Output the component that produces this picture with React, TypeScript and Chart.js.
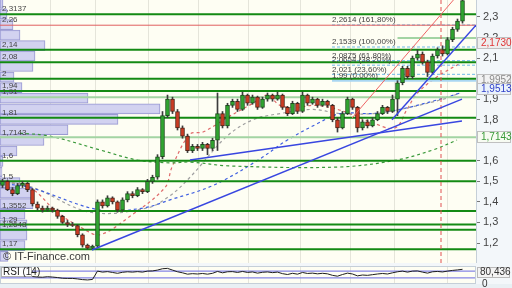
import React, { useEffect, useRef } from 'react';
import { Chart, registerables } from 'chart.js';

Chart.register(...registerables);

// ---------- price data (one candle per session) ----------
const openP = [1.48,1.50,1.46,1.44,1.48,1.49,1.46,1.39,1.37,1.36,1.37,1.36,1.33,1.30,1.29,1.285,1.24,1.19,1.175,1.185,
  1.40,1.38,1.42,1.40,1.36,1.41,1.44,1.43,1.46,1.45,1.50,1.52,1.62,1.82,1.90,1.84,1.76,1.72,1.65,1.67,
  1.66,1.68,1.66,1.70,1.83,1.77,1.87,1.89,1.85,1.92,1.88,1.91,1.86,1.90,1.92,1.90,1.92,1.86,1.83,1.88,
  1.84,1.92,1.88,1.90,1.87,1.89,1.87,1.80,1.76,1.83,1.90,1.86,1.76,1.79,1.77,1.80,1.83,1.86,1.84,1.90,
  1.98,2.05,2.01,2.10,2.12,2.08,2.03,2.11,2.14,2.12,2.19,2.24,2.28];
const highP = [1.51,1.505,1.47,1.49,1.50,1.495,1.465,1.40,1.38,1.38,1.375,1.365,1.335,1.31,1.30,1.29,1.245,1.195,1.19,1.41,
  1.41,1.43,1.425,1.405,1.42,1.45,1.45,1.47,1.465,1.51,1.53,1.63,1.84,1.92,1.91,1.85,1.77,1.73,1.68,1.68,
  1.69,1.685,1.71,1.93,1.84,1.88,1.90,1.90,1.935,1.925,1.92,1.915,1.91,1.93,1.925,1.935,1.925,1.865,1.89,1.885,
  1.935,1.925,1.91,1.905,1.90,1.895,1.875,1.81,1.84,1.91,1.905,1.865,1.80,1.80,1.81,1.84,1.87,1.865,1.92,1.99,
  2.06,2.06,2.11,2.14,2.13,2.09,2.12,2.15,2.16,2.20,2.25,2.29,2.40];
const lowP = [1.47,1.455,1.43,1.435,1.47,1.45,1.38,1.36,1.35,1.355,1.35,1.32,1.295,1.28,1.28,1.23,1.18,1.17,1.17,1.18,
  1.37,1.375,1.39,1.35,1.355,1.40,1.42,1.425,1.44,1.445,1.49,1.51,1.61,1.81,1.83,1.75,1.71,1.64,1.64,1.65,
  1.65,1.63,1.65,1.65,1.76,1.76,1.86,1.84,1.845,1.87,1.875,1.85,1.855,1.89,1.89,1.895,1.85,1.82,1.825,1.83,
  1.835,1.87,1.875,1.86,1.865,1.86,1.79,1.74,1.755,1.825,1.85,1.74,1.75,1.76,1.765,1.795,1.825,1.83,1.835,1.82,
  1.97,2.00,2.00,2.09,2.07,2.01,2.02,2.10,2.11,2.115,2.18,2.23,2.27];
const closeP = [1.50,1.46,1.44,1.48,1.49,1.46,1.39,1.37,1.36,1.37,1.36,1.33,1.30,1.29,1.285,1.24,1.19,1.175,1.185,1.40,
  1.38,1.42,1.40,1.36,1.41,1.44,1.43,1.46,1.45,1.50,1.52,1.62,1.82,1.90,1.84,1.76,1.72,1.65,1.67,1.66,
  1.68,1.66,1.70,1.83,1.77,1.87,1.89,1.85,1.92,1.88,1.91,1.86,1.90,1.92,1.90,1.92,1.86,1.83,1.88,1.84,
  1.92,1.88,1.90,1.87,1.89,1.87,1.80,1.76,1.83,1.90,1.86,1.76,1.79,1.77,1.80,1.83,1.86,1.84,1.90,1.98,
  2.05,2.01,2.10,2.12,2.08,2.03,2.11,2.14,2.12,2.19,2.24,2.28,2.38];

const rsiValues = [55,50,47,53,55,48,38,35,34,37,35,32,28,27,27,24,20,18,21,70,
  64,67,62,57,63,66,64,67,64,70,71,76,84,86,76,66,60,52,55,53,
  56,52,57,68,60,66,67,62,68,62,65,58,63,65,61,64,55,50,57,52,
  62,56,58,54,57,54,45,40,50,58,53,42,47,45,49,53,56,53,60,66,
  70,64,70,71,64,58,66,68,65,70,74,77,80.436];

// ---------- volume by price ----------
const volumePrices = [2.366,2.315,2.263,2.212,2.161,2.110,2.059,2.007,1.956,1.905,1.853,1.802,1.751,1.699,1.648,1.597,1.546,1.494,1.443,1.392,1.340,1.289,1.238,1.187,1.135];
const volumeValues = [3,7,13,20,45,35,33,14,22,88,160,118,68,44,17,3,2,20,33,33,25,27,27,25,8];

// ---------- support / resistance levels ----------
const levelValues = [2.3137,2.26,2.14,2.08,2.0,1.94,1.91,1.81,1.7143,1.6,1.5,1.3552,1.29,1.2648,1.17];
const levelLabels = ['2,3137','2,26','2,14','2,08','2','1,94','1,91','1,81','1,7143','1,6','1,5','1,3552','1,29','1,2648','1,17'];
const levelKinds = ['strong','red','strong','strong','strong','strong','weak','strong','weak','strong','strong','strong','strong','strong','strong'];
const shortLevel = 2.198;
const shortLevelStart = 79;

// ---------- fibonacci ----------
const fibValues = [2.2614,2.1539,2.0875,2.0654,2.021,1.99];
const fibLabels = ['2,2614 (161,80%)','2,1539 (100,00%)','2,0875 (61,80%)','2,0654 (38,20%)','2,021 (23,60%)','1,99 (0,00%)'];
const fibStart = 65.9;

// ---------- moving averages (index, price) ----------
const maRed = [[-0.5,1.50],[5.5,1.47],[10.9,1.35],[16.1,1.27],[19.5,1.24],[25.5,1.33],[32.5,1.47],[33.9,1.57],[37.5,1.73],[40.1,1.74],[44.9,1.81],[50.1,1.88],[52.9,1.92],[55.5,1.87],[58.9,1.86],[62.1,1.87],[65.5,1.86],[69.5,1.83],[73.5,1.79],[78.5,1.76],[80.9,1.85],[83,1.93],[87,2.01],[91.9,2.08]];
const maGray = [[-0.5,1.50],[6.1,1.47],[17.5,1.35],[28.9,1.37],[33.5,1.43],[37.5,1.52],[44.9,1.72],[50.1,1.80],[55.5,1.83],[62.1,1.85],[67.5,1.83],[74.1,1.83],[79.5,1.85],[88.1,1.90],[91.5,1.93]];
const maBlue = [[-0.5,1.49],[5.5,1.47],[19.5,1.36],[28.1,1.37],[33.5,1.41],[42.1,1.48],[50.9,1.60],[56.9,1.70],[62.9,1.78],[67.5,1.83],[74.1,1.83],[79.5,1.85],[87.5,1.90],[91.5,1.93]];
const maGreen = [[3.5,1.735],[9.5,1.72],[19.5,1.653],[26.9,1.604],[33.5,1.59],[37.5,1.594],[45.5,1.575],[67.5,1.57],[78.9,1.604],[86.1,1.653],[90.9,1.701]];

// ---------- drawn trendlines ----------
const trendBlue = [[[17.9,1.166],[91.9,1.90]],[[37.5,1.604],[91.9,1.794]],[[77.9,1.80],[94.7,2.26]]];
const trendRed = [[69.9,1.808],[91.5,2.42]];
const cursorX = 87.7;

// ---------- axes ----------
const gridX = [9.5,18.7,29.1,39.3,49.1,59.5,69.5,78.5,88.9];
const yTicks = [1.2,1.3,1.4,1.5,1.6,1.8,1.9,2.1,2.2,2.3];
const X_MIN = -0.5, X_MAX = 94.7, Y_MIN = 1.1027, Y_MAX = 2.3827;

const sideValues = [2.173,1.9952,1.9513,1.7143];
const sideTexts = ['2,1730','1,9952','1,9513','1,7143'];
const sideColors = ['#e03535','#8a8a8a','#3040c8','#3a9a3a'];
const sideBgs = ['#eeeeee','#f2f2f2','#eaf2fb','#f7fbf2'];

const rsiLast = '80,436';
const rsiBands = [70, 30];

const FONT = '"Liberation Sans", Arial, sans-serif';
const fmt = (v: number) => String(v).replace('.', ',');

function lineDs(pts: number[][], color: string, width: number, dash: number[], order: number, smooth = false) {
  return {
    type: 'line', data: pts.map(([x, y]) => ({ x, y })), borderColor: color, borderWidth: width,
    borderDash: dash, pointRadius: 0, fill: false, tension: smooth ? 0.35 : 0, order,
    xAxisID: 'x', yAxisID: 'y',
  };
}

export default function App() {
  const mainRef = useRef<HTMLCanvasElement>(null);
  const rsiRef = useRef<HTMLCanvasElement>(null);

  useEffect(() => {
    const datasets: any[] = [];
    datasets.push({
      type: 'bar', indexAxis: 'y', data: volumePrices.map((p, i) => ({ y: p, x: volumeValues[i] })),
      xAxisID: 'xv', yAxisID: 'y', backgroundColor: 'rgba(206,206,240,0.92)', borderColor: '#9a9ad2',
      borderWidth: 1, borderSkipped: false, barThickness: 10, grouped: false, order: 100,
    });
    levelValues.forEach((v, i) => {
      const k = levelKinds[i];
      const color = k === 'strong' ? '#138a13' : k === 'weak' ? '#a3d4a3' : '#e06060';
      datasets.push(lineDs([[X_MIN, v], [X_MAX, v]], color, k === 'red' ? 1 : 2, [], 40));
    });
    datasets.push(lineDs([[shortLevelStart, shortLevel], [X_MAX, shortLevel]], '#a3d4a3', 2, [], 40));
    fibValues.forEach((v, i) => {
      const last = i === fibValues.length - 1;
      datasets.push(lineDs([[fibStart, v], [X_MAX, v]], last ? '#a9d6f2' : '#6fbbe8', last ? 2 : 1, last ? [] : [3, 2], 45));
    });
    datasets.push(lineDs(maGreen, '#3a993a', 1.2, [3, 3], 50, true));
    datasets.push(lineDs(maBlue, '#4060e0', 1.2, [3, 3], 50, true));
    datasets.push(lineDs(maGray, '#a0a0a0', 1.2, [3, 3], 50, true));
    datasets.push(lineDs(maRed, '#e06a6a', 1.2, [3, 3], 50, true));
    datasets.push({
      type: 'bar', data: highP.map((h, i) => ({ x: i, y: [lowP[i], h] })), backgroundColor: '#3c3c3c',
      borderWidth: 0, barThickness: 1, grouped: false, order: 20, xAxisID: 'x', yAxisID: 'y',
    });
    datasets.push({
      type: 'bar', data: closeP.map((c, i) => ({ x: i, y: [openP[i], c] })),
      backgroundColor: closeP.map((c, i) => (c >= openP[i] ? '#2fa52f' : '#cc3b22')),
      borderColor: closeP.map((c, i) => (c >= openP[i] ? '#1d4d1d' : '#4d2418')),
      borderWidth: 1, borderSkipped: false, barThickness: 4, minBarLength: 1, grouped: false, order: 10,
      xAxisID: 'x', yAxisID: 'y',
    });
    trendBlue.forEach((t) => datasets.push(lineDs(t, '#3846e0', 1.5, [], 5)));
    datasets.push(lineDs(trendRed, '#ee6464', 1, [], 5));
    datasets.push(lineDs([[cursorX, Y_MIN], [cursorX, Y_MAX]], '#e05050', 1, [4, 3], 6));

    const mainDecor = {
      id: 'mainDecor',
      beforeDraw(chart: any) {
        const { ctx, chartArea: a } = chart;
        ctx.save();
        ctx.fillStyle = '#fefef3';
        ctx.fillRect(a.left, a.top, a.right - a.left, a.bottom - a.top);
        ctx.restore();
      },
      afterDatasetsDraw(chart: any) {
        const { ctx, chartArea: a } = chart;
        const ys = chart.scales.y, xs = chart.scales.x;
        ctx.save();
        ctx.font = `8px ${FONT}`;
        ctx.fillStyle = '#444';
        ctx.textBaseline = 'bottom';
        levelValues.forEach((v, i) => ctx.fillText(levelLabels[i], 2, ys.getPixelForValue(v) - 1));
        fibValues.forEach((v, i) => ctx.fillText(fibLabels[i], xs.getPixelForValue(fibStart), ys.getPixelForValue(v) - 1));
        ctx.font = `11px ${FONT}`;
        ctx.fillStyle = '#3a3a3a';
        ctx.textBaseline = 'middle';
        ctx.fillText('© IT-Finance.com', 3, a.bottom - 6);
        ctx.restore();
      },
      afterDraw(chart: any) {
        const { ctx, chartArea: a } = chart;
        const ys = chart.scales.y;
        ctx.save();
        ctx.font = `10px ${FONT}`;
        ctx.textBaseline = 'middle';
        sideValues.forEach((v, i) => {
          const py = Math.round(ys.getPixelForValue(v));
          ctx.fillStyle = sideBgs[i];
          ctx.fillRect(a.right + 1, py - 6, 34, 12);
          ctx.strokeStyle = '#c0c0c0';
          ctx.lineWidth = 1;
          ctx.strokeRect(a.right + 1.5, py - 5.5, 33, 11);
          ctx.fillStyle = sideColors[i];
          ctx.fillText(sideTexts[i], a.right + 5, py + 0.5);
        });
        ctx.restore();
      },
    };

    const main = new Chart(mainRef.current as HTMLCanvasElement, {
      type: 'bar',
      data: { datasets },
      options: {
        responsive: false, animation: false, events: [],
        layout: { padding: 0 },
        plugins: { legend: { display: false }, tooltip: { enabled: false } },
        scales: {
          x: {
            type: 'linear', min: X_MIN, max: X_MAX, offset: false,
            grid: { color: '#e5e5da', drawTicks: false, offset: false },
            border: { display: false }, ticks: { display: false },
            afterBuildTicks: (ax: any) => { ax.ticks = gridX.map((v) => ({ value: v })); },
            afterFit: (ax: any) => { ax.height = 0; ax.paddingLeft = 0; ax.paddingRight = 0; },
          },
          xv: { type: 'linear', axis: 'x', position: 'bottom', min: 0, max: 476, display: false, offset: false },
          y: {
            type: 'linear', position: 'right', min: Y_MIN, max: Y_MAX, offset: false,
            grid: { drawOnChartArea: false, tickLength: 4, color: '#777', offset: false },
            border: { color: '#c5cfd8' },
            ticks: { font: { size: 11, family: FONT }, color: '#444', padding: 3, callback: (v: any) => fmt(v) },
            afterBuildTicks: (ax: any) => { ax.ticks = yTicks.map((v) => ({ value: v })); },
            afterFit: (ax: any) => { ax.width = 36; ax.paddingTop = 0; ax.paddingBottom = 0; },
          },
        },
      } as any,
      plugins: [mainDecor],
    } as any);

    const rsiDecor = {
      id: 'rsiDecor',
      beforeDraw(chart: any) {
        const { ctx, chartArea: a, width, height } = chart;
        ctx.save();
        ctx.fillStyle = '#e9f0f4';
        ctx.fillRect(0, a.bottom + 1, width, height - a.bottom - 1);
        ctx.fillStyle = '#fefef3';
        ctx.fillRect(a.left, a.top, a.right - a.left, a.bottom - a.top);
        ctx.restore();
      },
      afterDraw(chart: any) {
        const { ctx, chartArea: a } = chart;
        const ys = chart.scales.y;
        ctx.save();
        ctx.strokeStyle = '#c5cfd8';
        ctx.strokeRect(a.left + 0.5, a.top + 0.5, a.right - a.left - 1, a.bottom - a.top);
        ctx.font = `10px ${FONT}`;
        ctx.textBaseline = 'middle';
        ctx.fillStyle = '#ffffff';
        ctx.fillRect(1, a.top + 1, 31, 10);
        ctx.strokeStyle = '#b0b0b0';
        ctx.strokeRect(1.5, a.top + 1.5, 30, 9);
        ctx.fillStyle = '#222';
        ctx.fillText('RSI (14)', 3, a.top + 6.5);
        const py = Math.max(Math.round(ys.getPixelForValue(rsiValues[rsiValues.length - 1])), a.top + 6);
        ctx.fillStyle = '#f4f4f4';
        ctx.fillRect(a.right + 1, py - 5, 33, 11);
        ctx.strokeStyle = '#b8b8b8';
        ctx.strokeRect(a.right + 1.5, py - 4.5, 32, 10);
        ctx.fillStyle = '#333';
        ctx.fillText(rsiLast, a.right + 4, py + 0.5);
        ctx.fillText('0', a.right + 6, a.bottom + 1);
        ctx.restore();
      },
    };

    const rsi = new Chart(rsiRef.current as HTMLCanvasElement, {
      type: 'line',
      data: {
        datasets: [
          ...rsiBands.map((b) => ({
            data: [{ x: X_MIN, y: b }, { x: X_MAX, y: b }], borderColor: '#8585e6', borderWidth: 1.2,
            pointRadius: 0, fill: false, order: 2,
          })),
          {
            data: rsiValues.map((v, i) => ({ x: i, y: v })), borderColor: '#1e1e1e', borderWidth: 1,
            pointRadius: 0, fill: false, tension: 0, order: 1,
          },
        ],
      },
      options: {
        responsive: false, animation: false, events: [],
        layout: { padding: { top: 1, bottom: 5 } },
        plugins: { legend: { display: false }, tooltip: { enabled: false } },
        scales: {
          x: {
            type: 'linear', min: X_MIN, max: X_MAX, offset: false,
            grid: { color: '#e5e5da', drawTicks: false }, border: { display: false }, ticks: { display: false },
            afterBuildTicks: (ax: any) => { ax.ticks = gridX.map((v) => ({ value: v })); },
            afterFit: (ax: any) => { ax.height = 0; ax.paddingLeft = 0; ax.paddingRight = 0; },
          },
          y: {
            type: 'linear', position: 'right', min: 0, max: 100,
            grid: { display: false }, border: { display: false }, ticks: { display: false },
            afterFit: (ax: any) => { ax.width = 36; ax.paddingTop = 0; ax.paddingBottom = 0; },
          },
        },
      } as any,
      plugins: [rsiDecor],
    } as any);

    return () => { main.destroy(); rsi.destroy(); };
  }, []);

  return (
    <div style={{ position: 'fixed', left: 0, top: 0, width: 512, height: 288, background: '#f3f7fa', overflow: 'hidden' }}>
      <canvas ref={mainRef} width={512} height={263} style={{ position: 'absolute', left: 0, top: 0, width: 512, height: 263 }} />
      <canvas ref={rsiRef} width={512} height={23} style={{ position: 'absolute', left: 0, top: 265, width: 512, height: 23 }} />
    </div>
  );
}
